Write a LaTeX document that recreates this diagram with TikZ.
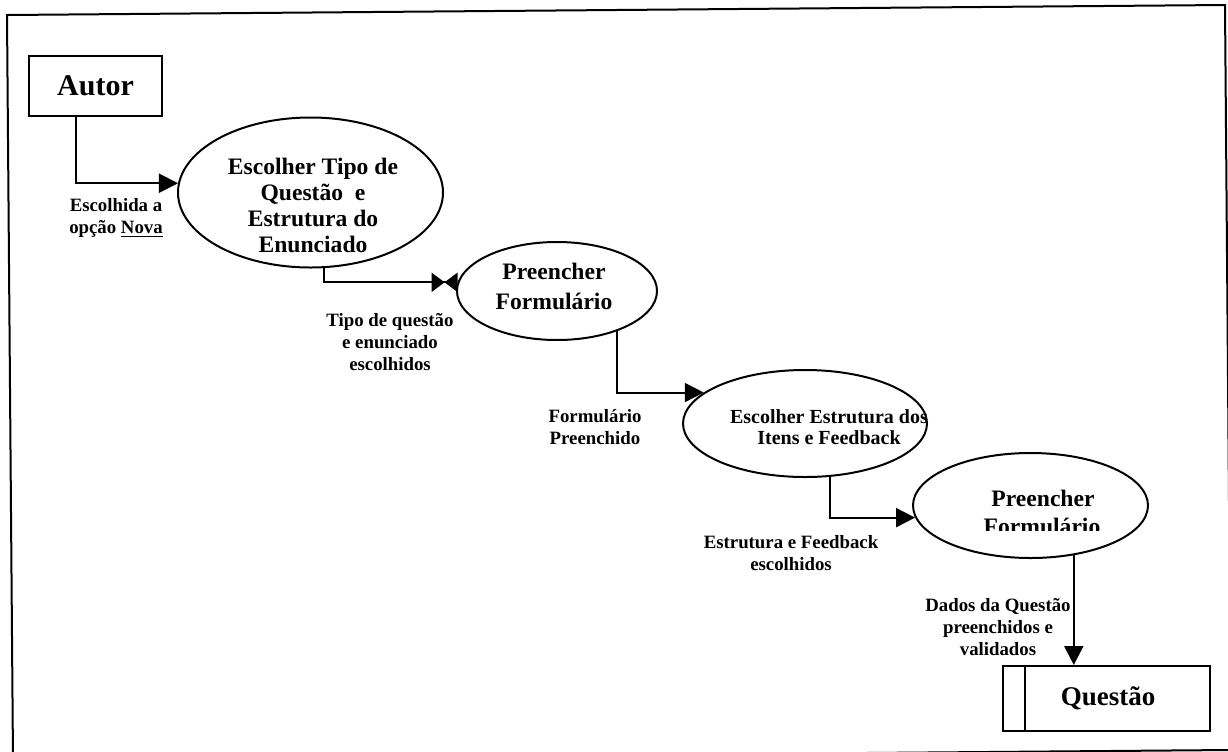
\documentclass[tikz,border=0pt]{standalone}
\usepackage{fontspec}
\setmainfont{Liberation Serif}
\usetikzlibrary{shapes.geometric,arrows.meta,calc}

\begin{document}
\begin{tikzpicture}[x=0.5pt,y=-0.5pt,
  proc/.style={draw, line width=1pt, ellipse, inner sep=0pt},
  ent/.style={draw, line width=1pt, rectangle, inner sep=0pt},
  flow/.style={draw, line width=1pt, -{Triangle[length=9.5pt,width=9.5pt]}},
  bowtie/.style={draw, line width=1pt,
    -{Triangle[length=6.5pt,width=9.5pt,sep=0pt] Triangle[length=6.5pt,width=9.5pt,reversed,sep=0pt]}},
  lbl/.style={align=center, inner sep=0pt, font=\bfseries\fontsize{9.4}{11}\selectfont},
  ptxt/.style={align=center, inner sep=0pt, font=\bfseries\fontsize{11.8}{13}\selectfont},
  ptxtb/.style={align=center, inner sep=0pt, font=\bfseries\fontsize{11.8}{15}\selectfont},
  ptxts/.style={align=center, inner sep=0pt, font=\bfseries\fontsize{10}{10.5}\selectfont},
]
\useasboundingbox (0,0) rectangle (1228,751);

% outer frame (slightly turned page)
\begin{scope}
  \clip (0,0) rectangle (1228,751);
  \draw[line width=1pt] (7,15) -- (1225,5) -- (1231,750) -- (13,760) -- cycle;
\end{scope}

% external entity and data store
\node[ent, minimum width=66.5pt, minimum height=30pt,
      font=\bfseries\fontsize{15}{18}\selectfont] (autor) at (95.5,86) {Autor};
\node[ent, minimum width=103.5pt, minimum height=32.5pt,
      font=\bfseries\fontsize{13.5}{16}\selectfont] (q) at (1106.5,698.5) {\hspace{1.5pt}Questão};
\draw[line width=1pt] ($(q.north west)+(23,0)$) -- ($(q.south west)+(23,0)$);

% processes
\node[proc, minimum width=132.5pt, minimum height=75pt] (e1) at (310.5,192.5) {};
\node[proc, minimum width=100pt, minimum height=49pt] (e2) at (557,291) {};
\node[proc, minimum width=122pt, minimum height=53.5pt] (e3) at (805,423.5) {};
\node[proc, minimum width=117.5pt, minimum height=52.5pt] (e4) at (1030.5,505.5) {};

\node[ptxt] (t1) at (313,205) {Escolher Tipo de\\Questão\ \ e\\Estrutura do\\Enunciado};
\node[ptxtb] (t2) at (554,286) {Preencher\\Formulário};
\node[ptxts] (t3) at (829,427) {Escolher Estrutura dos\\Itens e Feedback};
\node[ptxt] (t4) at (1043,498) {Preencher};
\begin{scope}
  \clip (900,450) rectangle (1160,530);
  \node[ptxt, anchor=base] (t4b) at (1042,534) {Formulário};
\end{scope}

% flows
\draw[flow] ($(autor.south)+(-19.5,0)$) |- (e1.176);
\draw[bowtie] (e1.-80) |- (e2.175);
\draw[flow] (e2.-34.5) |- (e3.163);
\draw[flow] (e3.-65.4) |- (e4.186.5);
\draw[flow] (e4.-49.4) -- (e4.-49.4 |- q.north);

% flow labels
\node[lbl] (l1) at (116,218) {Escolhida a\\opção \underline{Nova}};
\node[lbl] (l2) at (390,342) {Tipo de questão\\e enunciado\\escolhidos};
\node[lbl] (l3) at (595,427) {Formulário\\Preenchido};
\node[lbl] (l4) at (791,553) {Estrutura e Feedback\\escolhidos};
\node[lbl] (l5) at (998,627) {Dados da Questão\\preenchidos e\\validados};
\end{tikzpicture}
\end{document}
